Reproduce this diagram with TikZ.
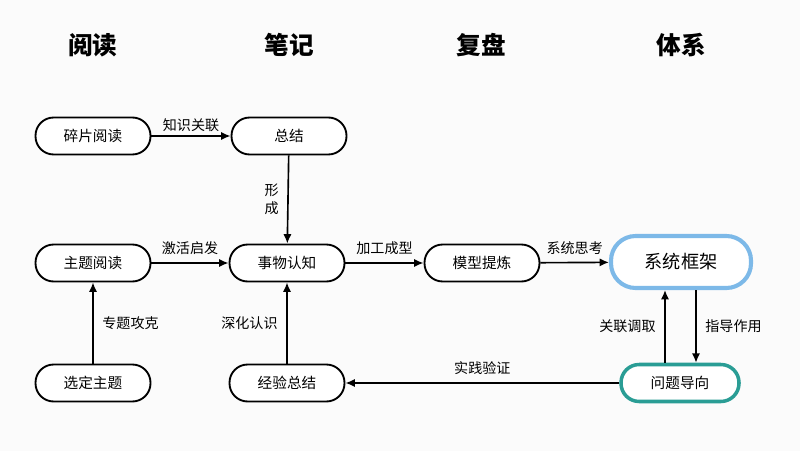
\documentclass[tikz,border=0pt]{standalone}
\usepackage{fontspec}
\setmainfont{Noto Sans CJK SC}
\usetikzlibrary{positioning,arrows.meta}
\definecolor{sysblue}{HTML}{7DB9E8}
\definecolor{probteal}{HTML}{2A9D95}
\tikzset{
  box/.style={draw, rounded corners=15.5pt, line width=1.6pt, minimum width=115*0.03cm, minimum height=37*0.03cm, font=\fontsize{12.5}{14}\selectfont, fill=white},
  head/.style={font=\fontsize{21}{24}\selectfont\bfseries},
  lab/.style={font=\fontsize{12}{15}\selectfont},
  arr/.style={-{Latex[length=8pt,width=7pt]}, line width=1.4pt}
}
\begin{document}
\begin{tikzpicture}[x=0.03cm, y=-0.03cm]
            \fill[white!97!gray] (0,0) rectangle (800,451);
            \useasboundingbox (0,0) rectangle (800,451);
            % column headers
            \node[head] (h1) at (93,45) {阅读};
            \node[head] (h2) at (289,45) {笔记};
            \node[head] (h3) at (481,45) {复盘};
            \node[head] (h4) at (681,45) {体系};
            % nodes
            \node[box] (frag) at (93,136) {碎片阅读};
            \node[box] (sum) at (289,136) {总结};
            \node[box] (topic) at (93,263) {主题阅读};
            \node[box] (cog) at (287,263) {事物认知};
            \node[box] (model) at (482,263) {模型提炼};
            \node[box, draw=sysblue, line width=3.5pt, minimum width=140*0.03cm, minimum height=52*0.03cm, rounded corners=21pt, font=\fontsize{15.5}{17}\selectfont] (sys) at (681,262) {系统框架};
            \node[box, draw=probteal, line width=3pt, minimum width=118*0.03cm] (prob) at (680,383) {问题导向};
            \node[box] (pick) at (93,383) {选定主题};
            \node[box] (exp) at (287,383) {经验总结};
            % connectors
            \draw[arr] (frag) -- node[lab, above] {知识关联} (sum);
            \draw[arr] (sum) -- node[lab, left, align=center, xshift=-4] {形\\成} (cog);
            \draw[arr] (topic) -- node[lab, above, yshift=3] {激活启发} (cog);
            \draw[arr] (cog) -- node[lab, above, yshift=3] {加工成型} (model);
            \draw[arr] (model) -- node[lab, above, yshift=3] {系统思考} (sys);
            \draw[arr] (pick) -- node[lab, right, xshift=4] {专题攻克} (topic);
            \draw[arr] (exp) -- node[lab, left, xshift=-4] {深化认识} (cog);
            \draw[arr] (prob) -- node[lab, above, yshift=3] {实践验证} (exp);
            \draw[arr] (prob.north -| 665,0) -- node[lab, left, xshift=-4] {关联调取} (sys.south -| 665,0);
            \draw[arr] (sys.south -| 696,0) -- node[lab, right, xshift=4] {指导作用} (prob.north -| 696,0);
\end{tikzpicture}
\end{document}
